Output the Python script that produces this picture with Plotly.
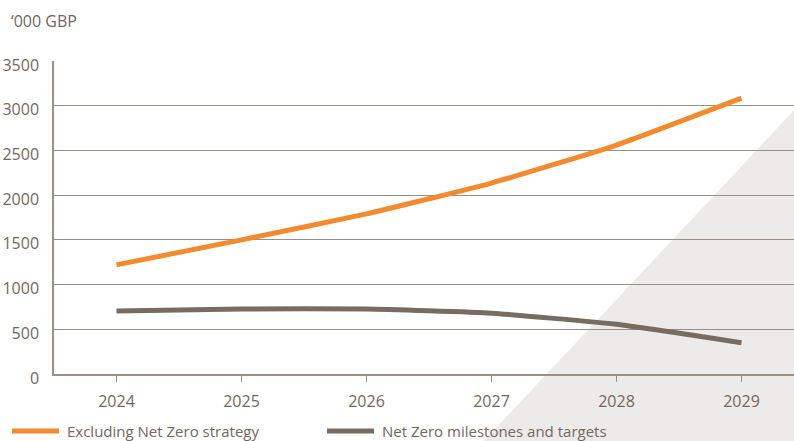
import plotly.graph_objects as go

years = [2024, 2025, 2026, 2027, 2028, 2029]
excluding_nz = [1220, 1500, 1790, 2135, 2560, 3085]
nz_targets = [705, 727, 727, 680, 556, 350]
y_ticks = [0, 500, 1000, 1500, 2000, 2500, 3000, 3500]
series_names = ["Excluding Net Zero strategy", "Net Zero milestones and targets"]
series_colors = ["#f28a30", "#786b60"]

W, H = 794, 441
# plot area in reference pixel coords: x 54..802 (clipped at 794), y 61..374
L, T = 54, 61
B = H - 374
R = 0
pw, ph = W - L - R, H - T - B

def px(x):
    return (x - L) / pw

def py(y):
    return (H - B - y) / ph

FONT = "Open Sans"
TXT = "#73675e"
GRID = "#9a8f87"

fig = go.Figure()
for name, vals, col in zip(series_names, [excluding_nz, nz_targets], series_colors):
    fig.add_trace(go.Scatter(x=years, y=vals, mode="lines", name=name, showlegend=False,
                             hoverinfo="skip",
                             line=dict(color=col, width=5, shape="spline", smoothing=0.4)))

fig.add_shape(type="path", xref="paper", yref="paper", layer="below",
              path=f"M {px(480)} {py(445)} L {px(796)} {py(108)} L {px(800)} {py(108)} L {px(800)} {py(445)} Z",
              fillcolor="#edebe9", line=dict(width=0))

# manual legend
leg = [(12, 59, 68), (327, 374, 383)]
for (x0, x1, tx), name, col in zip(leg, series_names, series_colors):
    fig.add_shape(type="line", xref="paper", yref="paper", x0=px(x0), x1=px(x1), y0=py(431), y1=py(431),
                  line=dict(color=col, width=5))
    fig.add_annotation(text=name, xref="paper", yref="paper", x=px(tx - 3), y=py(431),
                       xanchor="left", yanchor="middle", showarrow=False,
                       font=dict(family=FONT, size=15, color=TXT))

fig.add_annotation(text="‘000 GBP", xref="paper", yref="paper", x=px(9), y=py(21),
                   xanchor="left", yanchor="middle", showarrow=False,
                   font=dict(family=FONT, size=16, color=TXT))

fig.update_layout(
    width=W, height=H,
    margin=dict(l=L, r=R, t=T, b=B),
    paper_bgcolor="white", plot_bgcolor="rgba(0,0,0,0)",
    font=dict(family=FONT, size=16, color=TXT),
    showlegend=False,
    hovermode=False,
)
fig.update_xaxes(range=[2023.5, 2023.5 + pw / 125.0], tickvals=years, ticks="outside", ticklen=6,
                 tickcolor=GRID, showgrid=False, showline=True, linecolor=GRID, linewidth=1.5,
                 ticklabelstandoff=6,
                 tickfont=dict(family=FONT, size=16, color=TXT), zeroline=False)
fig.update_yaxes(range=[0, 3500], tickvals=y_ticks, showgrid=True, gridcolor=GRID, gridwidth=1.2,
                 showline=True, linecolor=GRID, linewidth=1.5, ticks="", ticklabelstandoff=10,
                 ticklabelshift=4,
                 tickfont=dict(family=FONT, size=16, color=TXT), zeroline=False)

fig.write_html("out.html", config={"displayModeBar": False},
               post_script="document.body.style.margin='0';document.body.style.overflow='hidden';")
